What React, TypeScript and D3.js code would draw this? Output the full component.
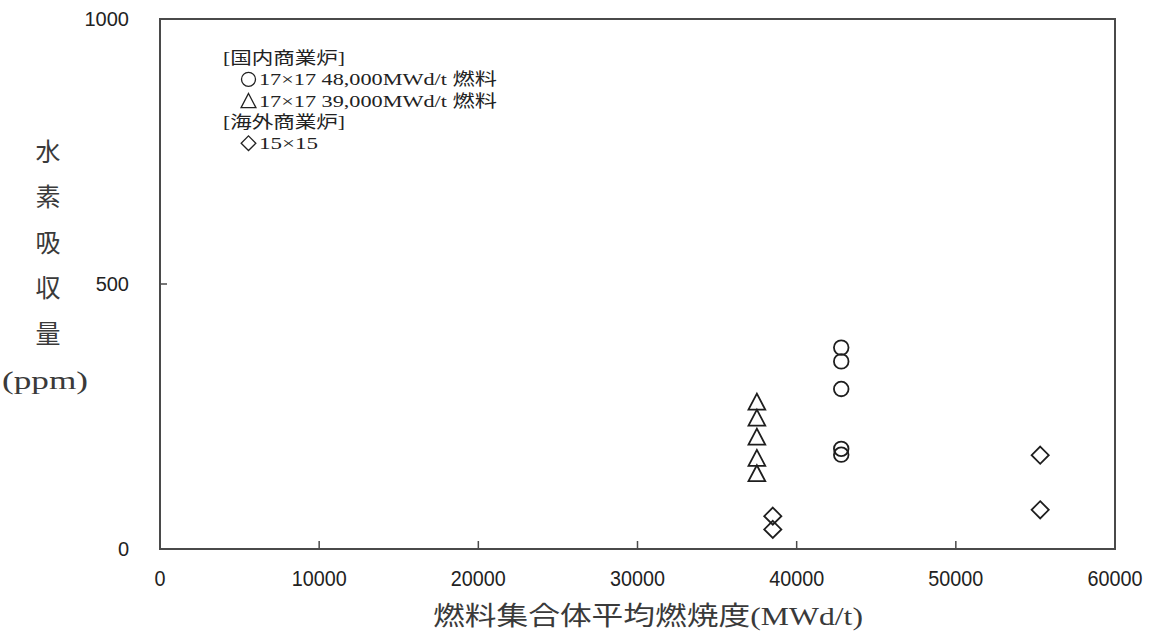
import React, { useEffect, useRef } from 'react';
import * as d3 from 'd3';

// 17x17 48,000MWd/t fuel (domestic)
const circleBurnup = [42800, 42800, 42800, 42800, 42800];
const circleHydrogen = [380, 354, 302, 189, 178];

// 17x17 39,000MWd/t fuel (domestic)
const triangleBurnup = [37500, 37500, 37500, 37500, 37500];
const triangleHydrogen = [278, 248, 212, 172, 143];

// 15x15 (overseas)
const diamondBurnup = [38500, 38500, 55300, 55300];
const diamondHydrogen = [62, 37, 177, 74];

const xTicks = [0, 10000, 20000, 30000, 40000, 50000, 60000];
const yTicks = [0, 500, 1000];

const legendLines = [
  '[国内商業炉]',
  '17×17 48,000MWd/t 燃料',
  '17×17 39,000MWd/t 燃料',
  '[海外商業炉]',
  '15×15'
];
const legendKeys = ['', 'circle', 'triangle', '', 'diamond'];
const legendIndent = [0, 1, 1, 0, 1];
const legendWidths = [122, 238, 238, 122, 59];

const yTitleChars = ['水', '素', '吸', '収', '量', '(ppm)'];
const xTitle = '燃料集合体平均燃焼度(MWd/t)';

// triangle centred on its bounding box
const triangleBox: d3.SymbolType = {
  draw(context, size) {
    const h = Math.sqrt(size) * 1.35;
    const w = h * 1.05;
    context.moveTo(0, -h / 2);
    context.lineTo(w / 2, h / 2);
    context.lineTo(-w / 2, h / 2);
    context.closePath();
  }
};

const diamondSquare: d3.SymbolType = {
  draw(context, size) {
    const r = Math.sqrt(size) * 0.7;
    context.moveTo(0, -r);
    context.lineTo(r, 0);
    context.lineTo(0, r);
    context.lineTo(-r, 0);
    context.closePath();
  }
};

const symbolTypes: Record<string, d3.SymbolType> = {
  circle: d3.symbolCircle,
  triangle: triangleBox,
  diamond: diamondSquare
};

const SERIF = "'Liberation Serif', 'Noto Sans CJK JP', serif";
const SANS = "'Liberation Sans', Arial, sans-serif";

const App: React.FC = () => {
  const svgRef = useRef<SVGSVGElement>(null);

  useEffect(() => {
    if (!svgRef.current) {
      return;
    }
    const svg = d3.select(svgRef.current);
    svg.selectAll('*').remove();

    const width = 1152;
    const height = 633;
    const left = 160;
    const right = 1115;
    const top = 19;
    const bottom = 549;

    svg.attr('width', width).attr('height', height).attr('viewBox', `0 0 ${width} ${height}`);
    svg.append('rect').attr('width', width).attr('height', height).attr('fill', '#ffffff');

    const x = d3.scaleLinear().domain([0, 60000]).range([left, right]);
    const y = d3.scaleLinear().domain([0, 1000]).range([bottom, top]);

    const frameColor = '#4a4a4a';

    // inward ticks
    svg
      .append('g')
      .selectAll('line')
      .data(xTicks.slice(1, -1))
      .enter()
      .append('line')
      .attr('x1', (d) => x(d))
      .attr('x2', (d) => x(d))
      .attr('y1', bottom)
      .attr('y2', bottom - 8)
      .attr('stroke', frameColor)
      .attr('stroke-width', 1.5);

    svg
      .append('g')
      .selectAll('line')
      .data(yTicks.slice(1, -1))
      .enter()
      .append('line')
      .attr('x1', left)
      .attr('x2', left + 7)
      .attr('y1', (d) => y(d))
      .attr('y2', (d) => y(d))
      .attr('stroke', frameColor)
      .attr('stroke-width', 1.5);

    svg
      .append('rect')
      .attr('x', left)
      .attr('y', top)
      .attr('width', right - left)
      .attr('height', bottom - top)
      .attr('fill', 'none')
      .attr('stroke', frameColor)
      .attr('stroke-width', 2);

    // tick labels
    svg
      .append('g')
      .selectAll('text')
      .data(xTicks)
      .enter()
      .append('text')
      .attr('x', (d) => x(d))
      .attr('y', 578)
      .attr('dy', '0.35em')
      .attr('text-anchor', 'middle')
      .attr('font-family', SANS)
      .attr('font-size', 22)
      .attr('fill', '#222')
      .attr('textLength', (d) => String(d).length * 11)
      .attr('lengthAdjust', 'spacingAndGlyphs')
      .text((d) => String(d));

    svg
      .append('g')
      .selectAll('text')
      .data(yTicks)
      .enter()
      .append('text')
      .attr('x', 129)
      .attr('y', (d) => y(d))
      .attr('dy', '0.35em')
      .attr('text-anchor', 'end')
      .attr('font-family', SANS)
      .attr('font-size', 20)
      .attr('fill', '#222')
      .text((d) => String(d));

    // axis titles
    svg
      .append('text')
      .attr('x', 433)
      .attr('y', 616)
      .attr('dy', '0.35em')
      .attr('font-family', SERIF)
      .attr('font-size', 26)
      .attr('fill', '#3a3a3a')
      .attr('textLength', 430)
      .attr('lengthAdjust', 'spacingAndGlyphs')
      .text(xTitle);

    const yTitle = svg.append('g');
    yTitleChars.forEach((ch, i) => {
      const isLatin = ch.startsWith('(');
      yTitle
        .append('text')
        .attr('x', isLatin ? 45 : 48)
        .attr('y', 152 + i * 45.5)
        .attr('dy', '0.35em')
        .attr('text-anchor', 'middle')
        .attr('font-family', SERIF)
        .attr('font-size', isLatin ? 26 : 25)
        .attr('fill', '#3a3a3a')
        .attr('textLength', isLatin ? 86 : null)
        .attr('lengthAdjust', 'spacingAndGlyphs')
        .text(ch);
    });

    // legend
    const legend = svg.append('g');
    legendLines.forEach((line, i) => {
      const lx = 223 + legendIndent[i] * 17;
      const ly = 58 + i * 21.3;
      const key = legendKeys[i];
      const keyW = key ? 19 : 0;
      if (key) {
        const sizes: Record<string, number> = { circle: Math.PI * 7 * 7, triangle: 110, diamond: 110 };
        legend
          .append('path')
          .attr('transform', `translate(${lx + 8.5}, ${ly})`)
          .attr('d', d3.symbol().type(symbolTypes[key]).size(sizes[key])() || '')
          .attr('fill', 'none')
          .attr('stroke', '#222')
          .attr('stroke-width', 1.3);
      }
      legend
        .append('text')
        .attr('x', lx + keyW)
        .attr('y', ly)
        .attr('dy', '0.35em')
        .attr('font-family', SERIF)
        .attr('font-size', 17)
        .attr('fill', '#222')
        .attr('textLength', legendWidths[i])
        .attr('lengthAdjust', 'spacingAndGlyphs')
        .text(line);
    });

    // markers
    const markerStroke = '#1e1e1e';
    const plot = svg.append('g');

    const drawSeries = (xs: number[], ys: number[], type: d3.SymbolType, size: number) => {
      const pts = xs.map((v, i) => [v, ys[i]] as [number, number]);
      plot
        .append('g')
        .selectAll('path')
        .data(pts)
        .enter()
        .append('path')
        .attr('transform', (d) => `translate(${x(d[0])}, ${y(d[1])})`)
        .attr('d', d3.symbol().type(type).size(size)() || '')
        .attr('fill', 'none')
        .attr('stroke', markerStroke)
        .attr('stroke-width', 1.8);
    };

    drawSeries(circleBurnup, circleHydrogen, d3.symbolCircle, Math.PI * 7.3 * 7.3);
    drawSeries(triangleBurnup, triangleHydrogen, triangleBox, 140);
    drawSeries(diamondBurnup, diamondHydrogen, diamondSquare, 150);
  }, []);

  return (
    <div style={{ position: 'absolute', left: 0, top: 0 }}>
      <svg ref={svgRef} style={{ display: 'block' }} />
    </div>
  );
};

export default App;
